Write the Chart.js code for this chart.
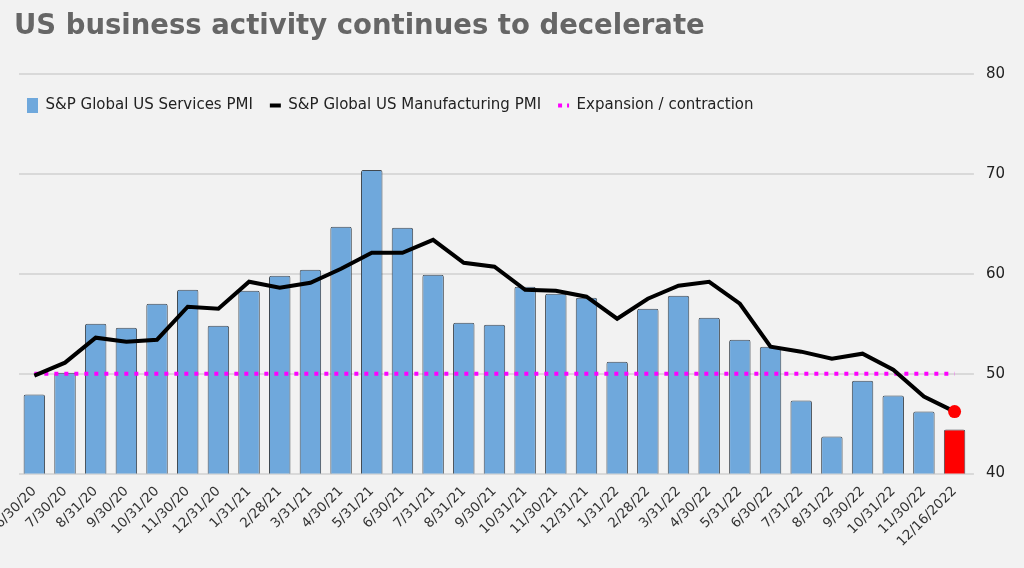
<!DOCTYPE html>
<html>
<head>
<meta charset="utf-8">
<title>US business activity</title>
<script src="https://cdn.jsdelivr.net/npm/chart.js@4"></script>
<style>
    html, body { margin: 0; padding: 0; background: #f2f2f2; }
    #wrap { width: 1024px; height: 568px; }
</style>
</head>
<body>
<div id="wrap"><canvas id="pmiChart"></canvas></div>
<script>
// Dati
const labels = ['6/30/20', '7/30/20', '8/31/20', '9/30/20', '10/31/20', '11/30/20', '12/31/20',
    '1/31/21', '2/28/21', '3/31/21', '4/30/21', '5/31/21', '6/30/21', '7/31/21', '8/31/21',
    '9/30/21', '10/31/21', '11/30/21', '12/31/21', '1/31/22', '2/28/22', '3/31/22', '4/30/22',
    '5/31/22', '6/30/22', '7/31/22', '8/31/22', '9/30/22', '10/31/22', '11/30/22', '12/16/2022'];

const servicesPMI = [47.9, 50.1, 55.0, 54.6, 57.0, 58.4, 54.8, 58.3, 59.8, 60.4, 64.7, 70.4, 64.6,
    59.9, 55.1, 54.9, 58.7, 58.0, 57.6, 51.2, 56.5, 57.8, 55.6, 53.4, 52.7, 47.3, 43.7, 49.3,
    47.8, 46.2, 44.4];

const manufacturingPMI = [49.8, 51.1, 53.6, 53.2, 53.4, 56.7, 56.5, 59.2, 58.6, 59.1, 60.5, 62.1,
    62.1, 63.4, 61.1, 60.7, 58.4, 58.3, 57.7, 55.5, 57.5, 58.8, 59.2, 57.0, 52.7, 52.2, 51.5,
    52.0, 50.4, 47.7, 46.2];

const expansionLine = [50, 50, 50, 50, 50, 50, 50, 50, 50, 50, 50, 50, 50, 50, 50, 50, 50, 50,
    50, 50, 50, 50, 50, 50, 50, 50, 50, 50, 50, 50, 50];

const yTicks = [40, 50, 60, 70, 80];

document.addEventListener("DOMContentLoaded", () => {

    const ctx = document.getElementById("pmiChart").getContext("2d");
    const lastIndex = labels.length - 1;

    // L'ultimo valore (flash) e' evidenziato in rosso
    const barColors = servicesPMI.map((_, i) => i === lastIndex ? '#ff0000' : '#6fa8dc');
    const pointSizes = manufacturingPMI.map((_, i) => i === lastIndex ? 6.5 : 0);

    Chart.defaults.font.family = "'DejaVu Sans', Verdana, sans-serif";
    Chart.defaults.color = '#222';

    // La legenda sta dentro l'area del grafico, su una riga sola
    const legendInside = {
        id: 'legendInside',
        beforeLayout(chart) {
            if (chart.legend) {
                chart.legend.isHorizontal = () => true;
            }
        },
        afterLayout(chart) {
            const lg = chart.legend;
            if (!lg) return;
            lg.left = 10;
            lg.right = lg.left + lg.width;
            lg.top = chart.chartArea.top + 7;
            lg.bottom = lg.top + lg.height;
        }
    };

    new Chart(ctx, {
        type: 'bar',
        data: {
            labels: labels,
            datasets: [
                {
                    label: 'S&P Global US Services PMI',
                    data: servicesPMI,
                    backgroundColor: barColors,
                    borderColor: '#404850',
                    borderWidth: 1,
                    borderRadius: 2,
                    borderSkipped: 'bottom',
                    barPercentage: 0.7,
                    categoryPercentage: 1.0,
                    order: 2
                },
                {
                    type: 'line',
                    label: 'S&P Global US Manufacturing PMI',
                    data: manufacturingPMI,
                    borderColor: '#000',
                    borderWidth: 4,
                    tension: 0,
                    pointRadius: pointSizes,
                    pointBackgroundColor: '#ff0000',
                    pointBorderWidth: 0,
                    pointHoverRadius: pointSizes,
                    fill: false,
                    order: 0
                },
                {
                    type: 'line',
                    label: 'Expansion / contraction',
                    data: expansionLine,
                    borderColor: '#ff00ff',
                    borderWidth: 4,
                    borderDash: [4, 6],
                    pointRadius: 0,
                    fill: false,
                    order: 1
                }
            ]
        },
        options: {
            responsive: true,
            maintainAspectRatio: false,
            animation: { duration: 0 },
            layout: {
                padding: { left: 14, right: 7, top: 0, bottom: 16 }
            },
            plugins: {
                tooltip: { enabled: false },
                title: {
                    display: true,
                    text: 'US business activity continues to decelerate',
                    align: 'start',
                    color: '#666',
                    font: { size: 27.5, weight: 'bold' },
                    padding: { top: 10, bottom: 31 }
                },
                legend: {
                    position: 'chartArea',
                    align: 'start',
                    labels: {
                        usePointStyle: true,
                        pointStyleWidth: 11,
                        boxHeight: 15,
                        padding: 17,
                        color: '#222',
                        font: { size: 15 },
                        sort: (a, b) => a.datasetIndex - b.datasetIndex,
                        generateLabels: (chart) => {
                            const items = Chart.defaults.plugins.legend.labels.generateLabels(chart);
                            items.forEach(item => {
                                const ds = chart.data.datasets[item.datasetIndex];
                                if (ds.type === 'line') {
                                    item.pointStyle = 'line';
                                    item.strokeStyle = ds.borderColor;
                                    item.lineWidth = 4;
                                    item.lineDash = ds.borderDash ? [4, 5] : [];
                                } else {
                                    item.pointStyle = 'rect';
                                    item.fillStyle = '#6fa8dc';
                                    item.lineWidth = 0;
                                }
                            });
                            return items;
                        }
                    }
                }
            },
            scales: {
                x: {
                    grid: { display: false },
                    border: { display: false },
                    // la prima etichetta puo' uscire un po' a sinistra, come nell'originale
                    afterFit: (scale) => {
                        scale.paddingLeft = 19;
                    },
                    ticks: {
                        autoSkip: false,
                        maxRotation: 45,
                        minRotation: 45,
                        padding: 2,
                        color: '#333',
                        font: { size: 13.5 }
                    }
                },
                y: {
                    position: 'right',
                    min: 40,
                    max: 80,
                    afterBuildTicks: (axis) => {
                        axis.ticks = yTicks.map(v => ({ value: v }));
                    },
                    grid: {
                        color: '#d9d9d9',
                        lineWidth: 2,
                        tickLength: 4
                    },
                    border: { display: false },
                    ticks: {
                        padding: 12,
                        color: '#222',
                        font: { size: 15 }
                    }
                }
            }
        },
        plugins: [legendInside]
    });
});
</script>
</body>
</html>
